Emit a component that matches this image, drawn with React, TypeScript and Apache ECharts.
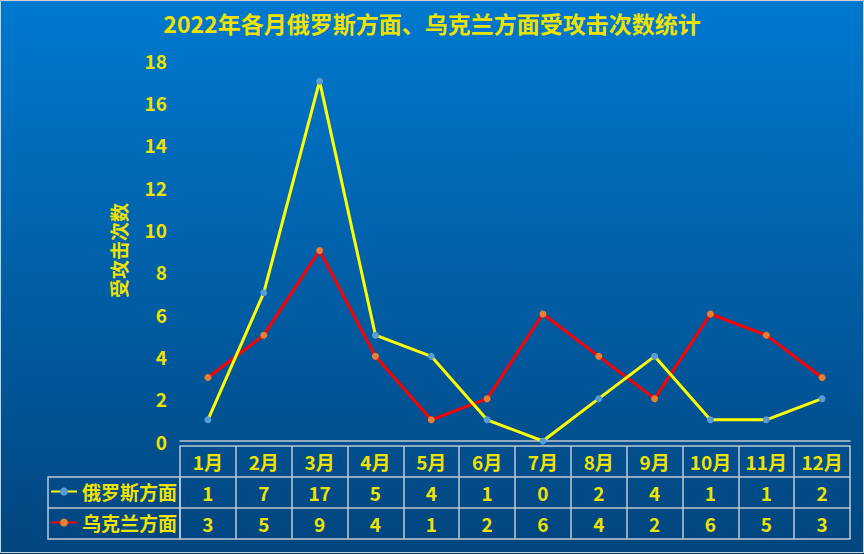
import React, { useEffect, useRef } from "react";
import * as echarts from "echarts";

const months = ["1月", "2月", "3月", "4月", "5月", "6月", "7月", "8月", "9月", "10月", "11月", "12月"];
const russia = [1, 7, 17, 5, 4, 1, 0, 2, 4, 1, 1, 2];
const ukraine = [3, 5, 9, 4, 1, 2, 6, 4, 2, 6, 5, 3];
const seriesNames = ["俄罗斯方面", "乌克兰方面"];
const titleText = "2022年各月俄罗斯方面、乌克兰方面受攻击次数统计";
const yName = "受攻击次数";

const YELLOW = "#efe200";
const GRIDLINE = "#bfc8d2";
const FONT = "'Noto Sans CJK SC', 'Noto Sans', sans-serif";

export default function App() {
  const ref = useRef<HTMLDivElement>(null);
  useEffect(() => {
    if (!ref.current) return;
    const chart = echarts.init(ref.current, undefined, { renderer: "svg" });
    const rowLabel = (vals: number[] | null) => ({
      show: true,
      interval: 0,
      margin: 6,
      color: YELLOW,
      fontSize: 19,
      fontWeight: "bold" as const,
      fontFamily: FONT,
      formatter: (v: string, i: number) => (vals ? String(vals[i]) : v),
    });
    const tableAxis = (offset: number, vals: number[] | null, withTicks: boolean, withLabel: boolean) => ({
      type: "category" as const,
      gridIndex: 0,
      position: "bottom" as const,
      offset,
      data: months,
      boundaryGap: true,
      axisLine: { show: true, lineStyle: { color: GRIDLINE, width: 1.5 } },
      axisTick: { show: withTicks, interval: 0, length: 31, lineStyle: { color: GRIDLINE, width: 1.5 } },
      axisLabel: withLabel ? rowLabel(vals) : { show: false },
      splitLine: { show: false },
    });
    const legendText = { color: YELLOW, fontSize: 19, fontWeight: "bold" as const, fontFamily: FONT };
    chart.setOption({
      animation: false,
      backgroundColor: new echarts.graphic.LinearGradient(0, 0, 0, 1, [
        { offset: 0, color: "#0079cf" },
        { offset: 1, color: "#02457e" },
      ]),
      title: {
        text: titleText,
        left: "center",
        top: 6,
        textStyle: { color: YELLOW, fontSize: 23, fontWeight: "bold", fontFamily: FONT },
      },
      legend: [
        {
          data: [seriesNames[0]],
          left: 50,
          top: 482,
          padding: 0,
          itemWidth: 26,
          itemHeight: 10,
          itemGap: 4,
          textStyle: legendText,
        },
        {
          data: [seriesNames[1]],
          left: 50,
          top: 513,
          padding: 0,
          itemWidth: 26,
          itemHeight: 10,
          itemGap: 4,
          textStyle: legendText,
        },
      ],
      grid: { left: 180, right: 14, top: 60, bottom: 113, containLabel: false },
      xAxis: [
        {
          type: "category",
          gridIndex: 0,
          position: "bottom",
          data: months,
          boundaryGap: true,
          axisLine: { show: true, lineStyle: { color: GRIDLINE, width: 1.5 } },
          axisTick: { show: false },
          axisLabel: { show: false },
        },
        tableAxis(5, null, true, true),
        tableAxis(36, russia, true, true),
        tableAxis(67, ukraine, true, true),
        tableAxis(98, null, false, false),
      ],
      yAxis: {
        type: "value",
        min: 0,
        max: 18,
        interval: 2,
        name: yName,
        nameLocation: "middle",
        nameRotate: 90,
        nameGap: 52,
        nameTextStyle: { color: YELLOW, fontSize: 19, fontWeight: "bold", fontFamily: FONT },
        axisLine: { show: false },
        axisTick: { show: false },
        splitLine: { show: false },
        axisLabel: { color: YELLOW, fontSize: 19, fontWeight: "bold", fontFamily: FONT, margin: 13 },
      },
      series: [
        {
          name: seriesNames[0],
          type: "line",
          data: russia,
          symbol: "circle",
          symbolSize: 7,
          itemStyle: { color: "#5b9bd5" },
          lineStyle: { color: "#ffff00", width: 3 },
          z: 3,
        },
        {
          name: seriesNames[1],
          type: "line",
          data: ukraine,
          symbol: "circle",
          symbolSize: 7,
          itemStyle: { color: "#ed7d31" },
          lineStyle: { color: "#ff0000", width: 3 },
          z: 2,
        },
      ],
      graphic: [
        {
          type: "rect",
          shape: { x: 48, y: 477, width: 132, height: 62 },
          style: { fill: "none", stroke: GRIDLINE, lineWidth: 1.5 },
        },
        {
          type: "line",
          shape: { x1: 48, y1: 508, x2: 180, y2: 508 },
          style: { stroke: GRIDLINE, lineWidth: 1.5 },
        },
        {
          type: "rect",
          shape: { x: 0.5, y: 0.5, width: 863, height: 552 },
          style: { fill: "none", stroke: "#c8d0d8", lineWidth: 1 },
        },
      ],
    });
    return () => chart.dispose();
  }, []);
  return (
    <div
      ref={ref}
      style={{ position: "fixed", left: 0, top: 0, width: 864, height: 554 }}
    />
  );
}
